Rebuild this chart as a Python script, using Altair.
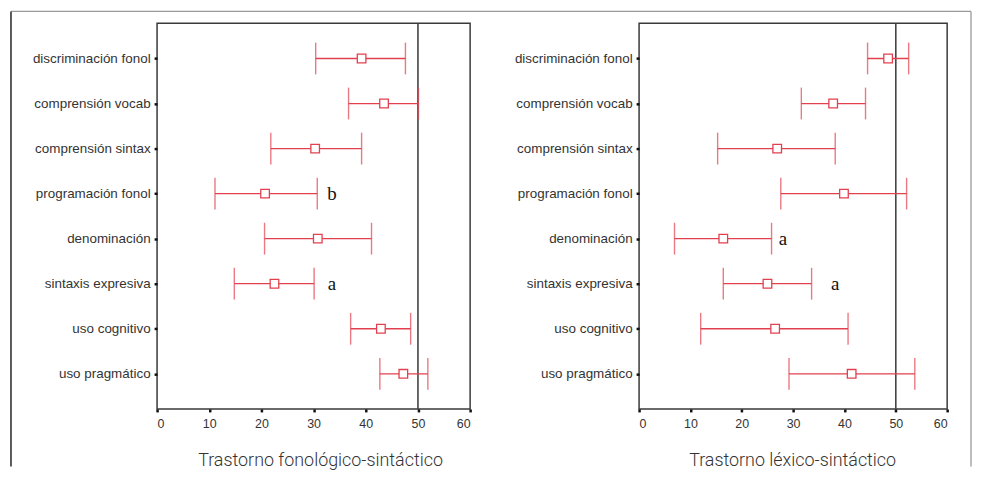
import altair as alt
import pandas as pd

categories = ["discriminación fonol", "comprensión vocab", "comprensión sintax",
              "programación fonol", "denominación", "sintaxis expresiva",
              "uso cognitivo", "uso pragmático"]

left_mean = [39.2, 43.5, 30.3, 20.7, 30.8, 22.5, 42.9, 47.2]
left_low = [30.4, 36.7, 21.8, 11.1, 20.6, 14.8, 37.1, 42.7]
left_high = [47.6, 50.1, 39.2, 30.7, 41.1, 30.1, 48.6, 51.9]

right_mean = [48.5, 37.8, 26.9, 39.9, 16.4, 25.0, 26.5, 41.4]
right_low = [44.5, 31.6, 15.3, 27.6, 6.9, 16.4, 12.0, 29.2]
right_high = [52.5, 44.1, 38.2, 52.1, 25.8, 33.6, 40.7, 53.7]

left_notes_cat = ["programación fonol", "sintaxis expresiva"]
left_notes_x = [33.5, 33.5]
left_notes_txt = ["b", "a"]
right_notes_cat = ["denominación", "sintaxis expresiva"]
right_notes_x = [28.0, 38.2]
right_notes_txt = ["a", "a"]

ref_value = [50]
x_ticks = [0, 10, 20, 30, 40, 50, 60]

titles = ["Trastorno fonológico-sintáctico", "Trastorno léxico-sintáctico"]

RED = "#e2404f"


def panel(mean, low, high, ncat, nx, ntxt, title, width, title_x, border=False):
    df = pd.DataFrame({"cat": categories, "mean": mean, "low": low, "high": high})
    notes = pd.DataFrame({"cat": ncat, "x": nx, "txt": ntxt})
    ref = pd.DataFrame({"v": ref_value})

    xscale = alt.Scale(domain=[0, 60], nice=False, zero=False)
    yscale = alt.Scale(type="point", domain=categories, padding=0.78)
    xax = alt.Axis(values=x_ticks, title=title, tickSize=3, tickWidth=2.5,
                   tickColor="#111", labelPadding=6, labelFont="Liberation Sans",
                   labelFontSize=12.5, labelColor="#333", domain=False, grid=False,
                   titleFont="Roboto", titleFontWeight=300, titleFontSize=18,
                   titleColor="#333", titleX=title_x, titleY=57,
                   titleBaseline="alphabetic", titleAlign="center")
    yax = alt.Axis(title=None, tickSize=3, tickWidth=2.5, tickColor="#111",
                   labelPadding=4, labelFont="Liberation Sans", labelFontSize=13.5,
                   labelColor="#333", domain=False, grid=False)

    base = alt.Chart(df)
    rules = base.mark_rule(color=RED, strokeWidth=1.3).encode(
        y=alt.Y("cat:N", scale=yscale, axis=yax, sort=categories),
        x=alt.X("low:Q", scale=xscale, axis=xax),
        x2="high:Q",
    )
    caps_lo = base.mark_tick(color=RED, thickness=1.4, size=32, orient="vertical").encode(
        y=alt.Y("cat:N", sort=categories), x="low:Q")
    caps_hi = base.mark_tick(color=RED, thickness=1.4, size=32, orient="vertical").encode(
        y=alt.Y("cat:N", sort=categories), x="high:Q")
    pts = base.mark_point(shape="square", size=75, color=RED, fill="white",
                          filled=False, strokeWidth=1.3, opacity=1).encode(
        y=alt.Y("cat:N", sort=categories), x="mean:Q")
    refline = alt.Chart(ref).mark_rule(color="#444", strokeWidth=1.6).encode(x="v:Q")
    txt = alt.Chart(notes).mark_text(font="Liberation Serif", fontSize=19,
                                     color="#111", align="center",
                                     baseline="middle").encode(
        y=alt.Y("cat:N", sort=categories), x="x:Q", text="txt:N")

    layers = [refline, rules, caps_lo, caps_hi, pts, txt]
    if border:
        top = alt.Chart(ref).mark_rule(color="#999", strokeWidth=1.3).encode(
            x=alt.value(-147), x2=alt.value(819), y=alt.value(-12))
        lft = alt.Chart(ref).mark_rule(color="#333", strokeWidth=1.6).encode(
            x=alt.value(-147), y=alt.value(-12), y2=alt.value(446))
        rgt = alt.Chart(ref).mark_rule(color="#999", strokeWidth=1.3).encode(
            x=alt.value(819), y=alt.value(-12), y2=alt.value(446))
        layers += [top, lft, rgt]
    return alt.layer(*layers).properties(width=width, height=388)


left = panel(left_mean, left_low, left_high, left_notes_cat, left_notes_x,
             left_notes_txt, titles[0], 315, 164, border=True)
right = panel(right_mean, right_low, right_high, right_notes_cat, right_notes_x,
              right_notes_txt, titles[1], 310, 154)

chart = alt.hconcat(left, right, spacing=170, bounds="flush").properties(
    padding={"left": 1, "top": 0, "right": 0, "bottom": 0},
    background="white",
).configure_view(stroke="#3a3a3a", strokeWidth=1.5)

chart.save("out.html", embed_options={"renderer": "svg", "actions": False})
